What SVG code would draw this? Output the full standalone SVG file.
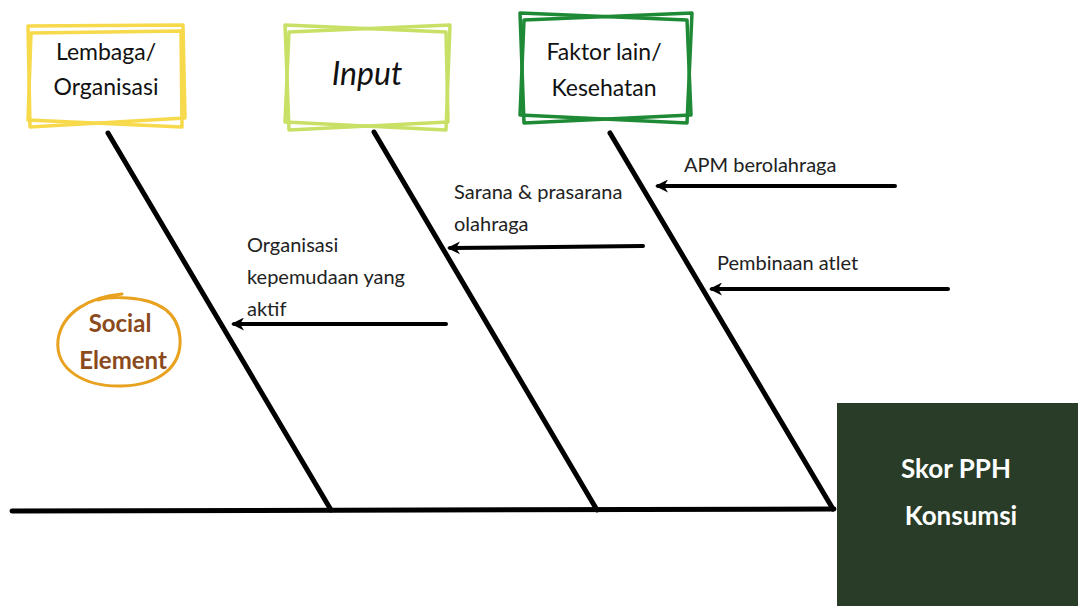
<svg xmlns="http://www.w3.org/2000/svg" width="1078" height="606" viewBox="0 0 1078 606">
<style>
.bone{stroke:#000;stroke-width:5;stroke-linecap:round;fill:none}
.arr{stroke:#000;stroke-width:4;stroke-linecap:round;fill:none}
.lbl{font-family:"Lato","Noto Sans",sans-serif;font-size:20px;fill:#222}
.box{fill:none;stroke-width:3.5;stroke-linejoin:round}
.bt{font-family:"Lato","Noto Sans",sans-serif;font-size:23px;fill:#111;text-anchor:middle}
.inp{font-style:italic;font-size:32px}
</style>
<defs>
<marker id="ah" viewBox="0 0 10 10" refX="7.7" refY="5" markerWidth="13" markerHeight="13" orient="auto" markerUnits="userSpaceOnUse">
<path d="M10,5 L0,0 L3,5 L0,10 Z" fill="#000"/>
</marker>
</defs>
<rect width="1078" height="606" fill="#fff"/>
<g id="connectors">
<line class="bone" x1="12" y1="511" x2="834" y2="509"/>
<line class="bone" x1="108" y1="133" x2="331" y2="510"/>
<line class="bone" x1="374" y1="132" x2="597" y2="510"/>
<line class="bone" x1="610" y1="133" x2="833" y2="509"/>
<line class="arr" x1="895" y1="186" x2="658" y2="186" marker-end="url(#ah)"/>
<line class="arr" x1="948" y1="289" x2="712" y2="289" marker-end="url(#ah)"/>
<line class="arr" x1="643" y1="246" x2="450" y2="248" marker-end="url(#ah)"/>
<line class="arr" x1="446" y1="324" x2="234" y2="324" marker-end="url(#ah)"/>
</g>
<g id="node-lembaga">
<polygon class="box" stroke="#f7d94c" points="28,26 183,25 185,118 30,127"/>
<polygon class="box" stroke="#f7d94c" points="31,33 181,31 182,127 28,120"/>
<text class="bt" x="106" y="60">Lembaga/</text>
<text class="bt" x="106" y="95">Organisasi</text>
</g>
<g id="node-input">
<polygon class="box" stroke="#c8e065" points="285,25 446,32 448,122 289,130"/>
<polygon class="box" stroke="#c8e065" points="289,32 450,25 446,130 285,122"/>
<text class="bt inp" x="367" y="85">Input</text>
</g>
<g id="node-faktor">
<polygon class="box" stroke="#1f8a36" points="520,13 687,20 691,115 524,123"/>
<polygon class="box" stroke="#1f8a36" points="524,20 692,13 687,123 520,115"/>
<text class="bt" x="604" y="60">Faktor lain/</text>
<text class="bt" x="604" y="96">Kesehatan</text>
</g>
<g id="node-social">
<path d="M122,294 C90,297 62,312 58,340 C55,370 85,387 122,386 C160,385 182,366 180,338 C178,312 158,300 128,298 C115,297 105,298 98,300" fill="none" stroke="#e8a21f" stroke-width="3" stroke-linecap="round"/>
<text x="120" y="332" font-family="Lato,'Noto Sans',sans-serif" font-weight="bold" font-size="24" fill="#8b4a1c" text-anchor="middle">Social</text>
<text x="123" y="369" font-family="Lato,'Noto Sans',sans-serif" font-weight="bold" font-size="24" fill="#8b4a1c" text-anchor="middle">Element</text>
</g>
<g id="node-skor">
<rect x="837" y="403" width="241" height="203" fill="#283c27"/>
<text x="956" y="478" font-family="Lato,'Noto Sans',sans-serif" font-weight="bold" font-size="26" fill="#fff" text-anchor="middle">Skor PPH</text>
<text x="961" y="525" font-family="Lato,'Noto Sans',sans-serif" font-weight="bold" font-size="26" fill="#fff" text-anchor="middle">Konsumsi</text>
</g>
<g id="labels">
<text class="lbl" x="684" y="172">APM berolahraga</text>
<text class="lbl" x="717" y="270">Pembinaan atlet</text>
<text class="lbl" x="454" y="199">Sarana &amp; prasarana</text>
<text class="lbl" x="454" y="231">olahraga</text>
<text class="lbl" x="247" y="252">Organisasi</text>
<text class="lbl" x="247" y="284">kepemudaan yang</text>
<text class="lbl" x="247" y="316">aktif</text>
</g>
</svg>
